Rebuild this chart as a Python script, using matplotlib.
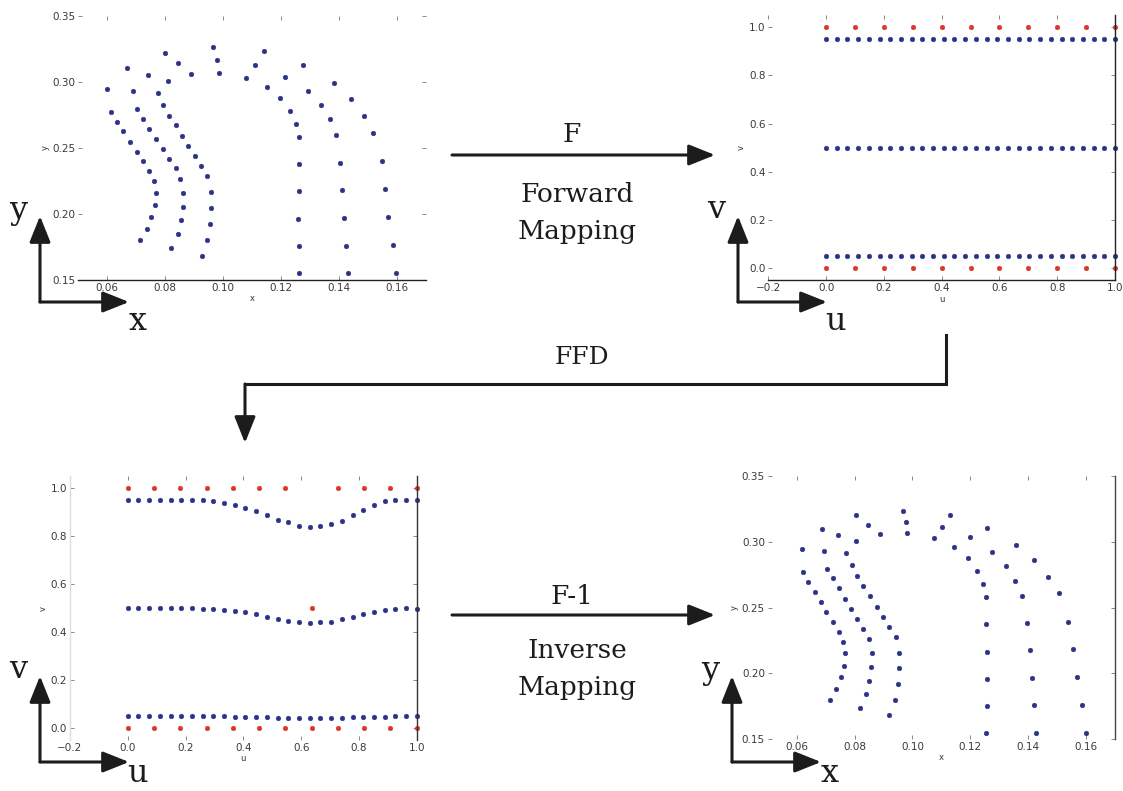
import matplotlib
matplotlib.use('Agg')
import matplotlib.pyplot as plt

# physical domain, before deformation (three curves, 28 points each)
orig_x_inner = [0.1261,0.1262,0.1259,0.1261,0.1262,0.1261,0.1251,0.1230,0.1195,0.1149,0.1077,0.0985,0.0887,0.0808,0.0776,0.0793,0.0814,0.0837,0.0856,0.0879,0.0902,0.0922,0.0943,0.0956,0.0956,0.0954,0.0943,0.0925]
orig_y_inner = [0.1550,0.1760,0.1961,0.2171,0.2377,0.2579,0.2680,0.2781,0.2879,0.2962,0.3025,0.3063,0.3058,0.3005,0.2912,0.2821,0.2740,0.2670,0.2592,0.2516,0.2438,0.2360,0.2286,0.2166,0.2047,0.1923,0.1805,0.1684]
orig_x_mid = [0.1429,0.1423,0.1416,0.1409,0.1402,0.1389,0.1368,0.1336,0.1291,0.1213,0.1109,0.0977,0.0845,0.0739,0.0690,0.0701,0.0724,0.0744,0.0768,0.0791,0.0814,0.0836,0.0852,0.0862,0.0860,0.0853,0.0843,0.0820]
orig_y_mid = [0.1550,0.1760,0.1971,0.2178,0.2387,0.2599,0.2715,0.2828,0.2932,0.3038,0.3126,0.3164,0.3139,0.3055,0.2932,0.2796,0.2720,0.2644,0.2569,0.2493,0.2418,0.2347,0.2264,0.2160,0.2055,0.1951,0.1848,0.1739]
orig_x_outer = [0.1595,0.1586,0.1569,0.1557,0.1548,0.1517,0.1486,0.1440,0.1382,0.1276,0.1140,0.0966,0.0799,0.0667,0.0600,0.0613,0.0634,0.0654,0.0678,0.0701,0.0724,0.0745,0.0761,0.0768,0.0763,0.0751,0.0737,0.0713]
orig_y_outer = [0.1550,0.1765,0.1979,0.2191,0.2400,0.2609,0.2740,0.2866,0.2987,0.3126,0.3232,0.3265,0.3214,0.3106,0.2942,0.2773,0.2697,0.2624,0.2544,0.2471,0.2397,0.2324,0.2246,0.2158,0.2067,0.1979,0.1886,0.1802]

# physical domain, after inverse mapping
def_x_inner = [0.1255,0.1257,0.1257,0.1257,0.1255,0.1253,0.1244,0.1224,0.1193,0.1144,0.1075,0.0983,0.0887,0.0805,0.0772,0.0790,0.0810,0.0830,0.0855,0.0876,0.0897,0.0920,0.0943,0.0954,0.0953,0.0951,0.0939,0.0920]
def_y_inner = [0.1551,0.1756,0.1961,0.2166,0.2373,0.2584,0.2680,0.2778,0.2875,0.2958,0.3027,0.3065,0.3059,0.3006,0.2918,0.2824,0.2743,0.2667,0.2589,0.2508,0.2432,0.2356,0.2280,0.2158,0.2039,0.1920,0.1799,0.1685]
def_x_mid = [0.1428,0.1420,0.1413,0.1405,0.1395,0.1379,0.1356,0.1322,0.1276,0.1200,0.1102,0.0977,0.0847,0.0744,0.0695,0.0706,0.0726,0.0747,0.0767,0.0787,0.0809,0.0830,0.0849,0.0859,0.0856,0.0851,0.0839,0.0818]
def_y_mid = [0.1551,0.1761,0.1968,0.2176,0.2386,0.2591,0.2705,0.2819,0.2925,0.3034,0.3110,0.3151,0.3128,0.3052,0.2933,0.2794,0.2723,0.2647,0.2566,0.2490,0.2414,0.2338,0.2259,0.2158,0.2052,0.1946,0.1842,0.1735]
def_x_outer = [0.1600,0.1586,0.1569,0.1554,0.1537,0.1505,0.1470,0.1420,0.1359,0.1259,0.1129,0.0968,0.0805,0.0686,0.0617,0.0621,0.0640,0.0663,0.0683,0.0701,0.0724,0.0747,0.0759,0.0767,0.0763,0.0752,0.0736,0.0715]
def_y_outer = [0.1551,0.1761,0.1973,0.2184,0.2394,0.2609,0.2735,0.2862,0.2976,0.3103,0.3204,0.3237,0.3204,0.3095,0.2943,0.2768,0.2692,0.2619,0.2546,0.2470,0.2394,0.2318,0.2239,0.2153,0.2059,0.1971,0.1880,0.1799]

# parametric domain
u_pts = [0.0,0.037,0.074,0.111,0.148,0.185,0.222,0.259,0.296,0.333,0.370,0.407,0.444,0.481,
         0.519,0.556,0.593,0.630,0.667,0.704,0.741,0.778,0.815,0.852,0.889,0.926,0.963,1.0]
v_rows = [0.05, 0.5, 0.95]
ctrl_u = [0.0,0.1,0.2,0.3,0.4,0.5,0.6,0.7,0.8,0.9,1.0]
ctrl_v = [0.0, 1.0]

# FFD result in (u, v)
ffd_v_low = [0.051,0.051,0.051,0.051,0.051,0.051,0.051,0.051,0.051,0.050,0.049,0.048,0.047,0.046,
             0.045,0.044,0.043,0.043,0.043,0.044,0.045,0.046,0.047,0.048,0.049,0.050,0.051,0.051]
ffd_v_mid = [0.500,0.500,0.500,0.500,0.500,0.500,0.500,0.497,0.496,0.493,0.490,0.483,0.476,0.465,
             0.455,0.447,0.442,0.440,0.442,0.444,0.455,0.465,0.476,0.486,0.493,0.497,0.500,0.499]
ffd_v_high = [0.952,0.952,0.952,0.952,0.952,0.952,0.952,0.950,0.946,0.939,0.932,0.918,0.904,0.888,
              0.869,0.858,0.844,0.839,0.842,0.851,0.865,0.888,0.911,0.932,0.946,0.951,0.952,0.952]
lat_u = [0.0,0.091,0.182,0.273,0.364,0.455,0.545,0.636,0.727,0.818,0.909,1.0]
lat_top_v = [1.0,1.0,1.0,1.0,1.0,1.0,1.0,0.5,1.0,1.0,1.0,1.0]
lat_bot_v = [0.0,0.0,0.0,0.0,0.0,0.0,0.0,0.0,0.0,0.0,0.0,0.0]

BLUE = '#2b3288'
RED = '#d8392b'
W, H = 1123, 791

fig = plt.figure(figsize=(W / 100, H / 100), dpi=100)


def box(left, top, right, bottom):
    return [left / W, 1 - bottom / H, (right - left) / W, (bottom - top) / H]


def style(ax, xlabel, ylabel, show):
    for s in ax.spines.values():
        s.set_visible(False)
    for s, col in show.items():
        ax.spines[s].set_visible(True)
        ax.spines[s].set_color(col)
        ax.spines[s].set_linewidth(1.0)
    ax.tick_params(direction='in', length=3, width=0.7, color='#888', labelsize=7.5,
                   labelcolor='#3a3a3a', pad=2, top=True, right=True)
    ax.set_xlabel(xlabel, fontsize=6, color='#333', labelpad=1)
    ax.set_ylabel(ylabel, fontsize=6, color='#333', labelpad=2)


def dots(ax, x, y, c):
    ax.plot(x, y, 'o', ms=3.4, color=c, mec=c, mew=0.3, clip_on=False)


# top left: original points
ax1 = fig.add_axes(box(78.3, 15.7, 426.3, 280))
for xs, ys in [(orig_x_inner, orig_y_inner), (orig_x_mid, orig_y_mid), (orig_x_outer, orig_y_outer)]:
    dots(ax1, xs, ys, BLUE)
ax1.set_xlim(0.05, 0.17)
ax1.set_ylim(0.15, 0.35)
ax1.set_xticks([0.06, 0.08, 0.10, 0.12, 0.14, 0.16])
ax1.set_yticks([0.15, 0.20, 0.25, 0.30, 0.35])
style(ax1, 'x', 'y', {'bottom': '#222'})

# top right: forward mapped points and lattice
ax2 = fig.add_axes(box(768.3, 15.2, 1115, 280.4))
for v in v_rows:
    dots(ax2, u_pts, [v] * len(u_pts), BLUE)
for v in ctrl_v:
    dots(ax2, ctrl_u, [v] * len(ctrl_u), RED)
ax2.set_xlim(-0.2, 1.0)
ax2.set_ylim(-0.05, 1.05)
ax2.set_xticks([-0.2, 0.0, 0.2, 0.4, 0.6, 0.8, 1.0])
ax2.set_yticks([0.0, 0.2, 0.4, 0.6, 0.8, 1.0])
style(ax2, 'u', 'v', {'bottom': '#222', 'right': '#222'})

# bottom left: FFD deformed lattice
ax3 = fig.add_axes(box(70, 476.3, 416.7, 740.3))
for vs in [ffd_v_low, ffd_v_mid, ffd_v_high]:
    dots(ax3, u_pts, vs, BLUE)
dots(ax3, lat_u, lat_top_v, RED)
dots(ax3, lat_u, lat_bot_v, RED)
ax3.set_xlim(-0.2, 1.0)
ax3.set_ylim(-0.05, 1.05)
ax3.set_xticks([-0.2, 0.0, 0.2, 0.4, 0.6, 0.8, 1.0])
ax3.set_yticks([0.0, 0.2, 0.4, 0.6, 0.8, 1.0])
style(ax3, 'u', 'v', {'right': '#333', 'left': '#ddd'})

# bottom right: back in physical space
ax4 = fig.add_axes(box(767.7, 476, 1115, 739.3))
for xs, ys in [(def_x_inner, def_y_inner), (def_x_mid, def_y_mid), (def_x_outer, def_y_outer)]:
    dots(ax4, xs, ys, BLUE)
ax4.set_xlim(0.05, 0.17)
ax4.set_ylim(0.15, 0.35)
ax4.set_xticks([0.06, 0.08, 0.10, 0.12, 0.14, 0.16])
ax4.set_yticks([0.15, 0.20, 0.25, 0.30, 0.35])
style(ax4, 'x', 'y', {'right': '#444'})

# overlay in pixel coordinates for the arrows and captions
ov = fig.add_axes([0, 0, 1, 1], zorder=10)
ov.set_xlim(0, W)
ov.set_ylim(H, 0)
ov.axis('off')
ov.patch.set_alpha(0)

INK = '#1c1c1c'
serif = 'DejaVu Serif'


def arrow(x0, y0, x1, y1, lw=2.2):
    ov.annotate('', xy=(x1, y1), xytext=(x0, y0),
                arrowprops=dict(arrowstyle='-|>,head_length=0.8,head_width=0.32', lw=lw,
                                color=INK, mutation_scale=20, shrinkA=0, shrinkB=0))


def frame(cx, cy, lx, ly, ldrop=20):
    # little coordinate system next to each panel
    arrow(cx, cy, cx, cy - 86)
    arrow(cx, cy, cx + 89, cy)
    ov.text(cx - 22, cy - 92, ly, fontsize=23, family=serif, color=INK, ha='center', va='center')
    ov.text(cx + 98, cy + ldrop, lx, fontsize=23, family=serif, color=INK, ha='center', va='center')


frame(40, 302, 'x', 'y')
frame(738, 302, 'u', 'v')
frame(40, 762, 'u', 'v', ldrop=12)
frame(732, 762, 'x', 'y', ldrop=12)

# forward mapping
arrow(452, 155, 715, 155)
ov.text(572, 134, 'F', fontsize=19, family=serif, color=INK, ha='center', va='center')
ov.text(577, 194, 'Forward', fontsize=19, family=serif, color=INK, ha='center', va='center')
ov.text(577, 232, 'Mapping', fontsize=19, family=serif, color=INK, ha='center', va='center')

# FFD step
ov.plot([946, 946, 245], [335, 384, 384], color=INK, lw=2.2, solid_joinstyle='miter')
arrow(245, 384, 245, 443)
ov.text(582, 358, 'FFD', fontsize=18, family=serif, color=INK, ha='center', va='center')

# inverse mapping
arrow(452, 615, 715, 615)
ov.text(572, 596, 'F-1', fontsize=19, family=serif, color=INK, ha='center', va='center')
ov.text(577, 650, 'Inverse', fontsize=19, family=serif, color=INK, ha='center', va='center')
ov.text(577, 688, 'Mapping', fontsize=19, family=serif, color=INK, ha='center', va='center')

fig.savefig('out.png', dpi=100)
